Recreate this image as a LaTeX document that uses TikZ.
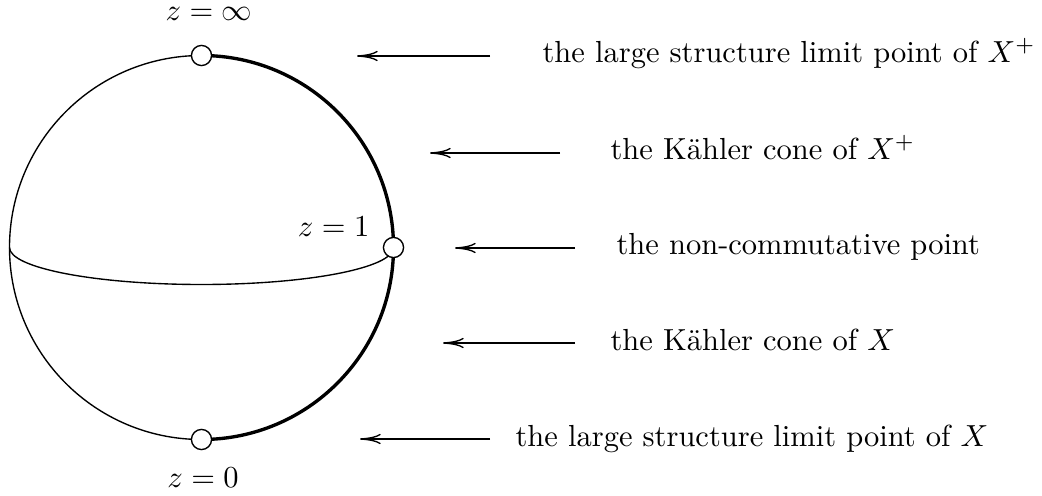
\documentclass[tikz,border=0pt]{standalone}
\usetikzlibrary{arrows.meta}
\begin{document}
\begin{tikzpicture}[x=0.328pt,y=0.328pt,
  thinline/.style={line width=0.45pt},
  thickline/.style={line width=1.1pt},
  pt/.style={circle,draw,fill=white,line width=0.45pt,minimum size=6.6pt,inner sep=0pt},
  lbl/.style={anchor=base west,inner sep=0pt},
  arr/.style={-{Computer Modern Rightarrow[length=6.8pt,width=3.4pt]},line width=0.45pt}]
\useasboundingbox (0,0) rectangle (1042,-496);
% sphere
\draw[thinline] (201.5,-247.5) circle[radius=192];
\draw[thickline] (201.5,-55.5) arc[start angle=90,end angle=-90,radius=192];
\draw[thinline] (9.5,-247.5) arc[start angle=180,end angle=360,x radius=192,y radius=37];
% marked points
\node[pt] (pinf) at (201.5,-55.5) {};
\node[pt] (pone) at (393.5,-247.5) {};
\node[pt] (pzero) at (201.5,-439.5) {};
\node[inner sep=0pt] (tinf) at (209,-14) {$z=\infty$};
\node[anchor=east,inner sep=0pt] (tone) at (370,-227) {$z=1$};
\node[inner sep=0pt] (tzero) at (203,-478) {$z=0$};
% arrows
\coordinate (a1t) at (490,-56);  \coordinate (a1h) at (357,-56);
\coordinate (a2t) at (560,-153); \coordinate (a2h) at (430,-153);
\coordinate (a3t) at (575,-248); \coordinate (a3h) at (455,-248);
\coordinate (a4t) at (575,-343); \coordinate (a4h) at (443,-343);
\coordinate (a5t) at (490,-439); \coordinate (a5h) at (360,-439);
\draw[arr] (a1t) -- (a1h);
\draw[arr] (a2t) -- (a2h);
\draw[arr] (a3t) -- (a3h);
\draw[arr] (a4t) -- (a4h);
\draw[arr] (a5t) -- (a5h);
% labels
\node[lbl] (l1) at (542,-63) {the large structure limit point of $X^+$};
\node[lbl] (l2) at (610,-160) {the K\"ahler cone of $X^+$};
\node[lbl] (l3) at (616,-255) {the non-commutative point};
\node[lbl] (l4) at (610,-350) {the K\"ahler cone of $X$};
\node[lbl] (l5) at (515,-446) {the large structure limit point of $X$};
\end{tikzpicture}
\end{document}
